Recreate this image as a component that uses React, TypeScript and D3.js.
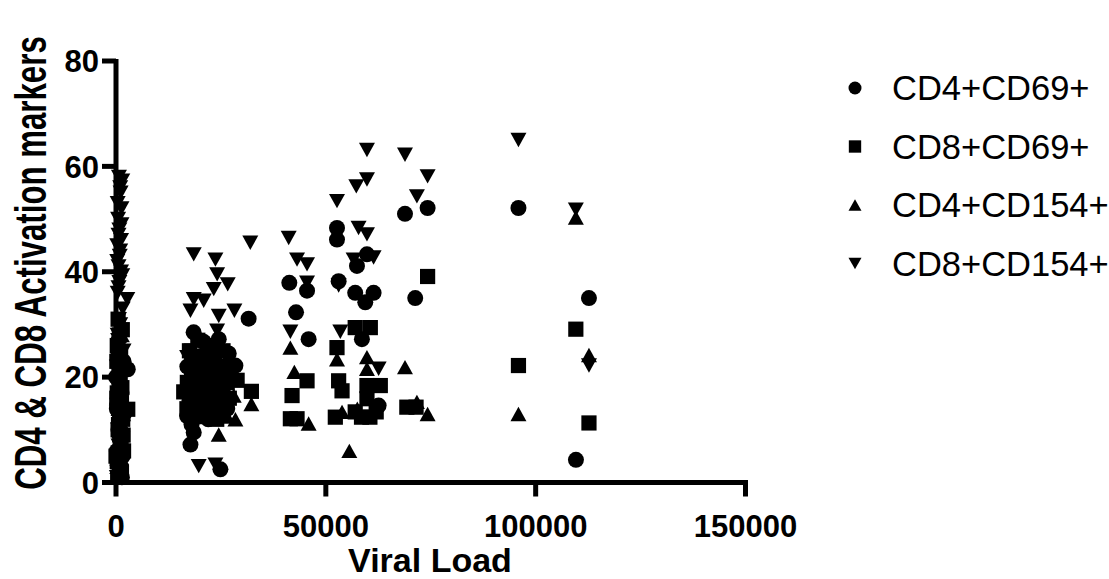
import React from "react";
import * as d3 from "d3";

// Each row: [viral load (copies/mL), % activated cells]
const cd4cd69: [number, number][] = [
  [2800, 21.5], [500, 25], [1000, 18], [300, 15], [1500, 12], [800, 9], [200, 6], [1200, 3], [600, 27], [0, 20], [400, 16],
  [1800, 23], [700, 19], [1300, 17], [200, 14], [1900, 13], [600, 10], [1100, 8], [1600, 5], [400, 4], [900, 2], [1400, 1],
  [18500, 28.5], [24480, 27.2], [20900, 26.7], [26860, 24.5], [28450, 22.2], [31600, 31.1], [16950, 12.6], [18520, 9.5],
  [17740, 7.2], [24880, 2.5], [19500, 21], [22500, 17], [25500, 19], [17500, 15.5], [21000, 13.5], [23500, 23.5],
  [17000, 22], [18000, 18], [19000, 14], [20000, 20], [21000, 23], [22000, 12], [23000, 20], [24000, 22], [25000, 16],
  [26500, 14], [18000, 11],
  [41300, 37.9], [45520, 36.4], [53050, 38.2], [57000, 36.0], [61380, 36.0], [59400, 34.2], [42900, 32.3], [45900, 27.2],
  [58600, 27.2], [52660, 48.3], [52660, 46.1], [59800, 43.3], [57420, 41.1], [62580, 14.6],
  [71300, 35.0], [74250, 52.1], [68860, 51.0], [95900, 52.1], [112700, 35.0], [109600, 4.3],
];

const cd8cd69: [number, number][] = [
  [500, 31], [800, 28], [200, 23], [1000, 20], [2800, 13.9], [1700, 9], [300, 17], [600, 11], [1200, 7], [0, 5], [900, 3], [400, 1], [1300, 15],
  [1500, 29], [300, 26], [1100, 24], [700, 21], [1400, 18], [200, 16], [900, 13], [1600, 12], [500, 10], [1000, 8], [1800, 6], [300, 4], [1300, 2],
  [28860, 19.4], [16140, 17.2], [16900, 14.0], [32260, 17.3], [18000, 20], [19500, 16], [20500, 22], [21500, 18], [22500, 14],
  [23500, 20], [24500, 15], [25500, 17], [26500, 19], [18500, 13], [21000, 12.5], [24000, 12], [20000, 24], [22000, 25.5],
  [17000, 19], [18000, 16], [19000, 23], [20000, 18], [21000, 15], [22000, 21], [23000, 17], [24000, 19], [25000, 13],
  [26000, 22], [27000, 16], [17500, 25], [19500, 27], [21500, 24], [23500, 26], [25500, 25],
  [41950, 16.5], [41550, 12.1], [43140, 12.1], [45520, 19.3], [53050, 19.3], [53860, 17.4], [52660, 25.6], [57000, 29.4],
  [60600, 29.4], [59800, 18.4], [62980, 18.4], [59800, 15.9], [52260, 12.4], [57000, 13.4], [58500, 12.4], [60500, 12.4], [62000, 13.4],
  [74250, 39.1], [69300, 14.3], [71500, 14.3], [95900, 22.2], [109570, 29.1], [112700, 11.3],
];

const cd4cd154: [number, number][] = [
  [500, 26], [1000, 20], [200, 16], [1500, 11], [800, 7], [300, 3], [1200, 23], [600, 1],
  [1400, 28], [700, 24], [300, 21], [1100, 18], [600, 14], [1700, 13], [900, 9], [400, 5], [1300, 2],
  [24090, 26.9], [28450, 12.0], [24480, 9.1], [32260, 14.9], [19000, 22], [21000, 19], [23000, 15], [25500, 17],
  [27000, 21], [20000, 13], [28050, 16.5], [17500, 18], [18500, 25], [22000, 23], [24500, 21], [26500, 12.5],
  [41550, 25.6], [42500, 21.0], [45900, 11.2], [52660, 23.4], [53860, 13.4], [59800, 23.8], [59800, 21.6], [55600, 6.0], [57500, 14],
  [68860, 21.9], [71700, 15.3], [74250, 13.0], [95900, 13.0], [109570, 50.3], [112700, 24.2],
];

const cd8cd154: [number, number][] = [
  [1500, 57.3], [1000, 56], [500, 50], [800, 48], [1200, 46], [300, 45], [900, 43], [1500, 39.3], [2700, 34.8], [600, 37],
  [1000, 30], [400, 28], [1800, 25], [200, 22], [700, 18], [1100, 15], [500, 10], [900, 5], [300, 2], [1300, 52], [600, 41],
  [700, 58], [1100, 55], [400, 53], [1300, 49], [600, 47], [1000, 44], [300, 42], [1200, 40], [800, 38], [400, 36],
  [1600, 33], [700, 31], [1300, 29], [500, 27], [1000, 24], [1500, 21], [300, 19], [1200, 16], [800, 13], [400, 12],
  [1400, 8], [600, 7], [1100, 4], [200, 1],
  [32000, 45.5], [18520, 43.3], [23690, 42.3], [24100, 39.5], [26620, 37.6], [23290, 36.7], [18520, 34.8], [20900, 34.5],
  [17740, 32.6], [24480, 31.6], [28210, 32.6], [24090, 28.8], [16950, 23.8], [19710, 3.1], [23690, 3.4], [20000, 20],
  [22500, 18], [26000, 15], [18000, 25], [19000, 18], [21000, 21], [23000, 24], [25000, 20],
  [41150, 46.4], [43140, 42.3], [45520, 41.4], [45520, 37.9], [41550, 28.6], [53450, 28.6], [52660, 53.4], [57260, 56.2],
  [59800, 57.5], [59800, 63.1], [57800, 48.3], [59800, 47.1], [56620, 42.3], [61380, 42.7], [62580, 21.6], [53050, 37.4],
  [68860, 62.2], [74250, 58.1], [71700, 54.3], [95900, 65.0], [109570, 51.8], [112700, 22.2],
];

const xTicks = [0, 50000, 100000, 150000];
const yTicks = [0, 20, 40, 60, 80];

type Shape = "circle" | "square" | "up" | "down";

const seriesList: { name: string; shape: Shape; data: [number, number][] }[] = [
  { name: "CD4+CD69+", shape: "circle", data: cd4cd69 },
  { name: "CD8+CD69+", shape: "square", data: cd8cd69 },
  { name: "CD4+CD154+", shape: "up", data: cd4cd154 },
  { name: "CD8+CD154+", shape: "down", data: cd8cd154 },
];

const W = 1109;
const H = 579;
const FONT = "'Liberation Sans', Arial, Helvetica, sans-serif";

function Marker({ shape, x, y, s }: { shape: Shape; x: number; y: number; s: number }) {
  const h = s / 2;
  if (shape === "circle") return <circle cx={x} cy={y} r={h} fill="#000" />;
  if (shape === "square") return <rect x={x - h * 0.95} y={y - h * 0.95} width={s * 0.95} height={s * 0.95} fill="#000" />;
  const th = s * 0.45;
  const path = d3.path();
  if (shape === "up") {
    path.moveTo(x, y - th);
    path.lineTo(x + h, y + th);
    path.lineTo(x - h, y + th);
  } else {
    path.moveTo(x - h, y - th);
    path.lineTo(x + h, y - th);
    path.lineTo(x, y + th);
  }
  path.closePath();
  return <path d={path.toString()} fill="#000" />;
}

export default function App() {
  const x = d3.scaleLinear().domain([0, 150000]).range([116, 745.5]);
  const y = d3.scaleLinear().domain([0, 80]).range([482.5, 61]);
  const fmt = d3.format("d");

  return (
    <svg width={W} height={H} style={{ position: "absolute", left: 0, top: 0, background: "#fff" }}>
      {/* data points */}
      {seriesList.map((s) => (
        <g key={s.name}>
          {s.data.map((d, i) => (
            <Marker key={i} shape={s.shape} x={x(d[0])} y={y(d[1])} s={16} />
          ))}
        </g>
      ))}

      {/* y axis */}
      <line x1={x(0)} x2={x(0)} y1={y(80) - 2} y2={y(0) + 2.5} stroke="#000" strokeWidth={5} />
      {yTicks.map((t) => (
        <g key={t}>
          <line x1={x(0) - 14} x2={x(0)} y1={y(t)} y2={y(t)} stroke="#000" strokeWidth={5} />
          <text x={x(0) - 17} y={y(t)} dy="0.36em" textAnchor="end" fontFamily={FONT} fontWeight="bold" fontSize={31}>
            {fmt(t)}
          </text>
        </g>
      ))}

      {/* x axis */}
      <line x1={x(0) - 2.5} x2={x(150000) + 2.5} y1={y(0)} y2={y(0)} stroke="#000" strokeWidth={5} />
      {xTicks.map((t) => (
        <g key={t}>
          <line x1={x(t)} x2={x(t)} y1={y(0)} y2={y(0) + 14} stroke="#000" strokeWidth={5} />
          <text x={x(t)} y={y(0) + 54} textAnchor="middle" fontFamily={FONT} fontWeight="bold" fontSize={31}>
            {fmt(t)}
          </text>
        </g>
      ))}

      {/* axis titles */}
      <text x={430} y={572} textAnchor="middle" fontFamily={FONT} fontWeight="bold" fontSize={34}>
        Viral Load
      </text>
      {/* rotated title: tall glyphs, condensed along the reading direction */}
      <text
        transform={`translate(46, 263) rotate(-90) scale(0.71, 1)`}
        textAnchor="middle"
        fontFamily={FONT}
        fontWeight="bold"
        fontSize={44}
      >
        CD4 &amp; CD8 Activation markers
      </text>

      {/* legend */}
      {seriesList.map((s, i) => {
        const ly = 88 + i * 58.5;
        return (
          <g key={s.name}>
            <Marker shape={s.shape} x={855} y={ly} s={13} />
            <text x={892} y={ly} dy="0.36em" fontFamily={FONT} fontSize={34.5}>
              {s.name}
            </text>
          </g>
        );
      })}
    </svg>
  );
}
